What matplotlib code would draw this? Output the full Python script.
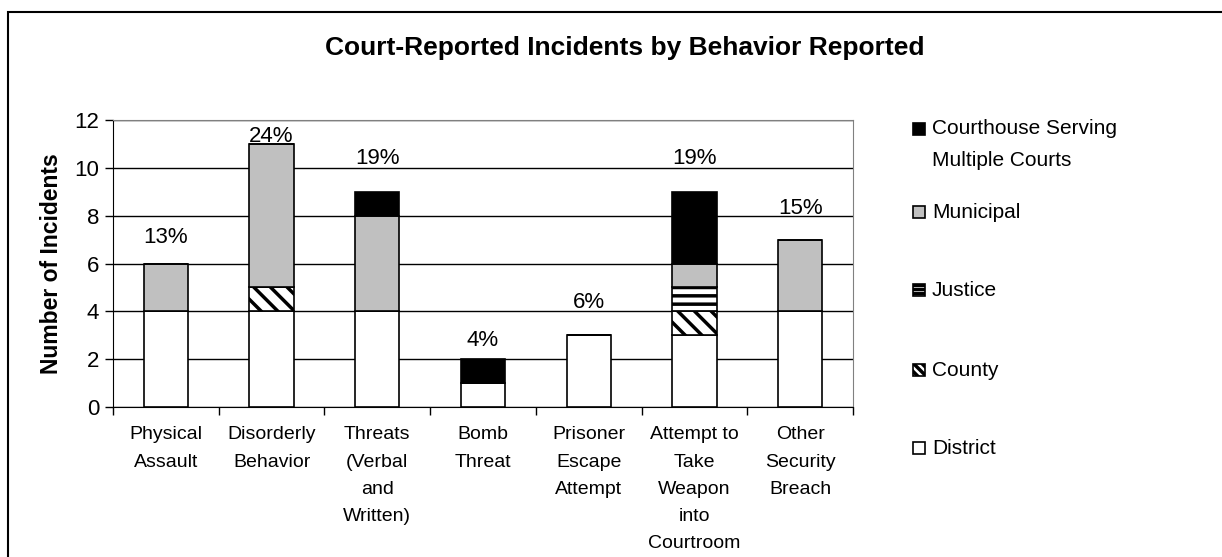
import numpy as np
import matplotlib
matplotlib.use("Agg")
import matplotlib.pyplot as plt
import matplotlib.patches as mpatches

plt.rcParams['font.family'] = ['Liberation Sans', 'DejaVu Sans']
plt.rcParams['hatch.linewidth'] = 2.5

categories = ['Physical\nAssault', 'Disorderly\nBehavior', 'Threats\n(Verbal\nand\nWritten)',
              'Bomb\nThreat', 'Prisoner\nEscape\nAttempt', 'Attempt to\nTake\nWeapon\ninto\nCourtroom',
              'Other\nSecurity\nBreach']
district = [4, 4, 4, 1, 3, 3, 4]
county = [0, 1, 0, 0, 0, 1, 0]
justice = [0, 0, 0, 0, 0, 1, 0]
municipal = [2, 6, 4, 0, 0, 1, 3]
multiple = [0, 0, 1, 1, 0, 3, 0]
percents = ['13%', '24%', '19%', '4%', '6%', '19%', '15%']
pct_label_y = [7.07, 11.3, 10.4, 2.8, 4.35, 10.4, 8.3]

series = [
    ('District', district, 'white', ''),
    ('County', county, 'white', '\\\\'),
    ('Justice', justice, 'white', '--'),
    ('Municipal', municipal, '#c0c0c0', ''),
    ('Courthouse Serving\nMultiple Courts', multiple, 'black', ''),
]

W, H = 1222, 557
fig = plt.figure(figsize=(W / 100, H / 100), dpi=100)
# outer chart frame
fig.patches.append(mpatches.Rectangle((8 / W, -0.1), 1.2, 1 - 12 / H + 0.1,
                                      transform=fig.transFigure, fill=False,
                                      edgecolor='black', linewidth=1.5))
ax = fig.add_axes([113 / W, 1 - 407 / H, 740 / W, 287 / H])

x = np.arange(len(categories))
bottom = np.zeros(len(categories))
for name, vals, color, hatch in series:
    vals = np.array(vals, dtype=float)
    ax.bar(x, vals, 0.42, bottom=bottom, color=color, hatch=hatch,
           edgecolor='black', linewidth=1.2, zorder=3)
    bottom += vals

for xi, txt, yy in zip(x, percents, pct_label_y):
    ax.text(xi, yy, txt, ha='center', va='center', fontsize=16)

ax.set_ylim(0, 12)
ax.set_xlim(-0.5, len(categories) - 0.5)
ax.set_yticks(range(0, 13, 2))
ax.tick_params(axis='y', labelsize=16, length=6, width=1, direction='out', pad=4)
ax.set_xticks(np.arange(-0.5, len(categories), 1.0))
ax.set_xticklabels([])
ax.set_xticks(x, minor=True)
ax.set_xticklabels(categories, minor=True, fontsize=14, linespacing=1.78, va='top')
ax.tick_params(axis='x', which='major', length=6, width=1, direction='out')
ax.tick_params(axis='x', which='minor', length=0, pad=14)
ax.yaxis.grid(True, color='black', linewidth=1, zorder=0)
ax.set_axisbelow(True)
for side in ['top', 'right']:
    ax.spines[side].set_color('#808080')
for side in ['left', 'bottom']:
    ax.spines[side].set_color('black')

ax.set_ylabel('Number of Incidents', fontsize=16.5, fontweight='bold', labelpad=8)
fig.text(0.511, 1 - 48 / H, 'Court-Reported Incidents by Behavior Reported',
         ha='center', va='center', fontsize=19, fontweight='bold')

# legend, Excel style: small square keys aligned with the first text line
legend_y = [129, 212, 290, 370, 448]
line_h = 29
for (name, vals, color, hatch), py in zip(series[::-1], legend_y):
    fig.patches.append(mpatches.Rectangle((913 / W, 1 - (py + 6) / H), 12 / W, 12 / H,
                                          transform=fig.transFigure, facecolor=color,
                                          hatch=hatch * 2, edgecolor='black', linewidth=1.2))
    nlines = name.count('\n') + 1
    fig.text(932 / W, 1 - (py + (nlines - 1) * line_h / 2 + 1) / H, name,
             ha='left', va='center', fontsize=15, linespacing=1.85)

fig.savefig('out.png', dpi=100)
